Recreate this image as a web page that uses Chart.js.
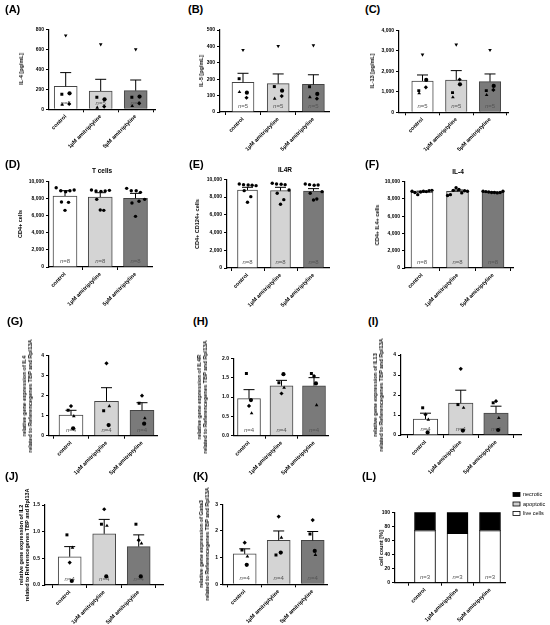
<!DOCTYPE html>
<html>
<head>
<meta charset="utf-8">
<script src="https://cdn.jsdelivr.net/npm/chart.js@4.4.1/dist/chart.umd.min.js"></script>
<style>
  body { margin: 0; background: #fff; width: 550px; height: 625px; position: relative; overflow: hidden;
         font-family: "Liberation Sans", Arial, sans-serif; }
  canvas { position: absolute; }
  .lbl { position: absolute; font-weight: bold; font-size: 11px; line-height: 1; }
  .ttl { position: absolute; font-weight: bold; font-size: 6.5px; line-height: 1; transform: translate(-50%, -50%); }
  .ytl { position: absolute; font-weight: bold; font-size: 5.5px; line-height: 6px; white-space: nowrap;
         text-align: center; transform: translate(-50%, -50%) rotate(-90deg); }
</style>
</head>
<body>
<script>
const groups = ['control', '1µM amitriptyline', '5µM amitriptyline'];

// donor points, n=5 order: circle, square, triangle, down-triangle, diamond
// (A) IL-4 [pg/mL]
const il4Mean = [230, 183, 187];
const il4Sem = [137, 117, 106];
const il4Pts = [[160, 150, 47, 738, 53], [100, 120, 17, 650, 27], [127, 120, 33, 600, 60]];
const il4Ticks = [0, 200, 400, 600, 800];

// (B) IL-5 [pg/mL]
const il5Mean = [181, 173, 168];
const il5Sem = [55, 59, 59];
const il5Pts = [[118, 203, 122, 378, 87], [130, 155, 81, 402, 97], [110, 154, 91, 406, 81]];
const il5Ticks = [0, 100, 200, 300, 400, 500];

// (C) IL-13 [pg/mL]
const il13Mean = [1529, 1577, 1496];
const il13Sem = [292, 456, 374];
const il13Pts = [[1577, 1057, 927, 2813, 1220], [1366, 960, 732, 3300, 1600], [1285, 1057, 845, 3040, 1090]];
const il13Ticks = [0, 1000, 2000, 3000, 4000];

// (D) T cells, CD4+ cells (n=8)
const tcellMean = [8320, 8203, 8047];
const tcellSem = [625, 508, 586];
const tcellPts = [[9297, 8945, 8828, 8945, 9023, 7617, 7578, 6640],
                  [9023, 8906, 8867, 8906, 8984, 7930, 6640, 6679],
                  [9219, 8945, 8945, 8750, 7930, 7500, 7700, 5938]];
// (E) IL4R, CD4+ CD124+ cells
const il4rMean = [8797, 8722, 8684];
const il4rSem = [301, 376, 264];
const il4rPts = [[9474, 9398, 9361, 9323, 9286, 8722, 8045, 7406],
                 [9549, 9474, 9436, 9398, 8797, 8421, 7707, 7180],
                 [9474, 9398, 9323, 9361, 8609, 8421, 7782, 7669]];
// (F) IL-4, CD4+ IL4+ cells
const il4cMean = [8800, 8880, 8760];
const il4cSem = [100, 150, 50];
const il4cPts = [[8900, 8750, 8500, 8800, 8900, 8850, 8950, 9000],
                 [8400, 8500, 9000, 9300, 9100, 8700, 8950, 8900],
                 [8900, 8850, 8800, 8750, 8750, 8700, 8750, 8900]];
const cellTicks = [0, 2000, 4000, 6000, 8000, 10000];

// relative gene expression, n=4 order: circle, square, triangle, diamond
// (G) IL4
const gIl4Mean = [1.03, 1.72, 1.27];
const gIl4Sem = [0.24, 0.68, 0.38];
const gIl4Pts = [[0.37, 1.27, 0.98, 1.48], [0.53, 1.25, 1.48, 3.62], [0.6, 1.62, 0.87, 2.0]];
// (H) IL4R
const gIl4rMean = [0.96, 1.29, 1.29];
const gIl4rSem = [0.23, 0.14, 0.21];
const gIl4rPts = [[0.92, 1.61, 0.58, 0.77], [1.59, 1.37, 1.24, 1.09], [1.35, 1.61, 0.79, 1.54]];
// (I) IL13
const gIl13Mean = [0.8, 1.59, 1.1];
const gIl13Sem = [0.29, 0.65, 0.34];
const gIl13Pts = [[0.13, 1.36, 0.77, 1.02], [0.22, 1.52, 1.36, 3.31], [0.25, 1.61, 0.85, 1.69]];
// (J) IL2
const gIl2Mean = [0.53, 0.96, 0.72];
const gIl2Sem = [0.19, 0.27, 0.22];
const gIl2Pts = [[0.075, 0.94, 0.7, 0.42], [0.16, 1.14, 1.11, 1.42], [0.16, 1.14, 0.78, 0.84]];
// (K) Gata3
const gGataMean = [1.14, 1.65, 1.65];
const gGataSem = [0.19, 0.35, 0.33];
const gGataPts = [[0.73, 1.29, 1.04, 1.56], [1.19, 1.1, 1.75, 2.54], [1.25, 1.89, 1.1, 2.41]];

const gTicks4 = [0, 1, 2, 3, 4];
const gTicks2 = [0, 0.5, 1.0, 1.5, 2.0];
const gTicks15 = [0, 0.5, 1.0, 1.5];
const gTicks3 = [0, 1, 2, 3];

// (L) cell count [%]
const liveCells = [74, 70, 74];
const apoptotic = [0.5, 0.5, 0.5];
const necrotic = [25.5, 29.5, 25.5];
const pctTicks = [0, 20, 40, 60, 80, 100];

const geneTitle = g => ['relative gene expression of ' + g, 'related to Referencegenes TBP and Rpl13A'];
const fmtInt = v => v.toLocaleString('en-US');
const fmt1 = v => v.toFixed(1);

// point symbols / jitter (style only)
const sym5 = ['circle', 'rect', 'triangle', 'triangle', 'rectRot'];
const rot5 = [0, 0, 0, 180, 0];
const jit5 = [0.11, -0.11, -0.1, 0, 0.1];
const sym4 = ['circle', 'rect', 'triangle', 'rectRot'];
const rot4 = [0, 0, 0, 0];
const jit4 = [0.06, -0.08, 0.08, 0];
const sym8 = Array(8).fill('circle');
const rot8 = Array(8).fill(0);
const jit8 = [-0.25, -0.12, 0.02, 0.14, 0.26, -0.1, 0.1, 0];
const jit8line = [-0.28, -0.2, -0.12, -0.04, 0.04, 0.12, 0.2, 0.28];

const barColors = ['#ffffff', '#d4d4d4', '#7a7a7a'];

Chart.defaults.font.family = '"Liberation Sans", Arial, sans-serif';
Chart.defaults.color = '#000';

const barExtras = {
  id: 'barExtras',
  afterDatasetDraw(chart, args, o) {
    if (args.index !== 0) return;
    const ctx = chart.ctx, x = chart.scales.x, y = chart.scales.y;
    const bars = chart.data.datasets[0].data;
    ctx.save();
    ctx.strokeStyle = '#000';
    ctx.lineWidth = 1;
    (o.sem || []).forEach((e, i) => {
      const px = x.getPixelForValue(i);
      const base = y.getPixelForValue(bars[i].y);
      const top = y.getPixelForValue(bars[i].y + e);
      ctx.beginPath();
      ctx.moveTo(px, base); ctx.lineTo(px, top);
      ctx.moveTo(px - 5.5, top); ctx.lineTo(px + 5.5, top);
      ctx.stroke();
    });
    if (o.n) {
      const by = y.getPixelForValue(0) - 2.5;
      ctx.fillStyle = '#555';
      ctx.textBaseline = 'bottom';
      groups.forEach((g, i) => {
        const px = x.getPixelForValue(i);
        ctx.font = 'italic 6px "Liberation Sans"';
        const w1 = ctx.measureText('n').width;
        ctx.font = '6px "Liberation Sans"';
        const rest = '=' + o.n;
        const w2 = ctx.measureText(rest).width;
        const sx = px - (w1 + w2) / 2;
        ctx.font = 'italic 6px "Liberation Sans"';
        ctx.fillText('n', sx, by);
        ctx.font = '6px "Liberation Sans"';
        ctx.fillText(rest, sx + w1, by);
      });
    }
    ctx.restore();
  }
};

const sideLegend = {
  id: 'sideLegend',
  afterDraw(chart, args, o) {
    if (!o.show) return;
    const ctx = chart.ctx;
    ctx.save();
    chart.data.datasets.slice().reverse().forEach((d, i) => {
      const yy = o.y + i * 9.5;
      ctx.fillStyle = d.backgroundColor;
      ctx.strokeStyle = '#000';
      ctx.lineWidth = 0.8;
      ctx.fillRect(o.x, yy - 2, 7, 4);
      ctx.strokeRect(o.x, yy - 2, 7, 4);
      ctx.fillStyle = '#000';
      ctx.font = '5.5px "Liberation Sans"';
      ctx.textBaseline = 'middle';
      ctx.fillText(d.label, o.x + 10, yy);
    });
    ctx.restore();
  }
};

function dots(pts, jit) {
  const out = [];
  pts.forEach((grp, g) => grp.forEach((v, k) => out.push({ x: g + jit[k], y: v })));
  return out;
}

function addDiv(cls, text, x, y) {
  const d = document.createElement('div');
  d.className = cls;
  if (Array.isArray(text)) d.innerHTML = text.join('<br>'); else d.textContent = text;
  d.style.left = x + 'px'; d.style.top = y + 'px';
  document.body.appendChild(d);
}

function makePanel(p) {
  const padTop = p.padTop || 10;
  const left = Math.round(p.x0 - 30);
  const top = Math.round(p.y0 - padTop);
  const right = Math.round(p.legend ? 550 : p.x1 + 4);
  const bottom = Math.round(p.y1 + 44);
  const W = right - left, H = bottom - top;
  const cv = document.createElement('canvas');
  cv.width = W; cv.height = H;
  cv.style.left = left + 'px'; cv.style.top = top + 'px';
  cv.style.width = W + 'px'; cv.style.height = H + 'px';
  document.body.appendChild(cv);

  // y-axis title as page text, centred on the plot height
  const lines = Array.isArray(p.title) ? p.title.length : 1;
  addDiv('ytl', p.title, p.tx + (lines - 1) * 3, (p.y0 + p.y1) / 2);

  const xmin = -(p.c0 - p.x0) / p.s;
  const xmax = 2 + (p.x1 - (p.c0 + 2 * p.s)) / p.s;
  const ymax = p.ticks[p.ticks.length - 1];

  let datasets;
  if (p.stackData) {
    datasets = p.stackData.map(sd => ({
      type: 'bar', label: sd.label, data: sd.values.map((v, i) => ({ x: i, y: v })),
      backgroundColor: sd.color, borderColor: '#000', borderWidth: 1, barThickness: p.bw
    }));
  } else {
    const n = p.pts[0].length;
    const sym = n === 5 ? sym5 : n === 4 ? sym4 : sym8;
    const rot = n === 5 ? rot5 : n === 4 ? rot4 : rot8;
    const jit = p.line ? jit8line : n === 5 ? jit5 : n === 4 ? jit4 : jit8;
    datasets = [{
      type: 'bar', order: 1,
      data: p.mean.map((v, i) => ({ x: i, y: v })),
      backgroundColor: barColors, borderColor: '#444', borderWidth: 1, barThickness: p.bw
    }, {
      type: 'scatter', order: 0,
      data: dots(p.pts, jit),
      pointStyle: p.pts.flatMap(grp => grp.map((v, k) => sym[k])),
      rotation: p.pts.flatMap(grp => grp.map((v, k) => rot[k])),
      pointRadius: n === 8 ? 1.7 : 2.1, pointBorderWidth: 0, backgroundColor: '#000', borderColor: '#000'
    }];
  }

  new Chart(cv, {
    type: 'bar',
    data: { datasets },
    plugins: [barExtras, sideLegend],
    options: {
      responsive: false,
      animation: false,
      layout: { padding: { top: p.y0 - top, left: 0, right: right - p.x1, bottom: 0 } },
      plugins: {
        legend: { display: false },
        tooltip: { enabled: false },
        barExtras: { sem: p.sem, n: p.n },
        sideLegend: { show: !!p.legend, x: 513 - left, y: 494.5 - top }
      },
      scales: {
        x: {
          type: 'linear', min: xmin, max: xmax, offset: false, stacked: !!p.stackData,
          afterBuildTicks: sc => { sc.ticks = groups.map((g, i) => ({ value: i })); },
          afterFit: sc => { sc.height = bottom - p.y1; },
          ticks: { callback: v => groups[v], minRotation: 45, maxRotation: 45, autoSkip: false,
                   font: { size: 5.5, weight: 'bold' }, color: '#000', padding: 1 },
          grid: { drawOnChartArea: false, tickLength: 3, color: '#000', lineWidth: 1 },
          border: { color: '#000', width: 1.2 }
        },
        y: {
          min: 0, max: ymax, stacked: !!p.stackData,
          afterBuildTicks: sc => { sc.ticks = p.ticks.map(v => ({ value: v })); },
          afterFit: sc => { sc.width = p.x0 - left; },
          ticks: { callback: p.fmt, font: { size: 5, weight: 'bold' }, color: '#000', padding: 2 },
          grid: { drawOnChartArea: false, tickLength: 3, color: '#000', lineWidth: 1 },
          border: { color: '#000', width: 1.2 }
        }
      }
    }
  });
}

const panels = [
  { x0: 49, x1: 155, c0: 65.7, s: 35, y0: 29.3, y1: 109.3, tx: 20.7, bw: 23,
    title: 'IL-4 [pg/mL]', ticks: il4Ticks, fmt: fmtInt, mean: il4Mean, sem: il4Sem, pts: il4Pts, n: '5' },
  { x0: 220, x1: 329, c0: 243, s: 35.2, y0: 30, y1: 112, tx: 200.7, bw: 22,
    title: 'IL-5 [pg/mL]', ticks: il5Ticks, fmt: fmtInt, mean: il5Mean, sem: il5Sem, pts: il5Pts, n: '5' },
  { x0: 399, x1: 508, c0: 422.5, s: 33.75, y0: 30.3, y1: 112.3, tx: 372, bw: 21.5,
    title: 'IL-13 [pg/mL]', ticks: il13Ticks, fmt: fmtInt, mean: il13Mean, sem: il13Sem, pts: il13Pts, n: '5' },
  { x0: 49, x1: 152, c0: 65, s: 35.25, y0: 181.7, y1: 267, tx: 20, bw: 24,
    title: 'CD4+ cells', ticks: cellTicks, fmt: fmtInt, mean: tcellMean, sem: tcellSem, pts: tcellPts, n: '8' },
  { x0: 227, x1: 329, c0: 247.5, s: 33, y0: 179.3, y1: 268, tx: 196.7, bw: 20,
    title: 'CD4+ CD124+ cells', ticks: cellTicks, fmt: fmtInt, mean: il4rMean, sem: il4rSem, pts: il4rPts, n: '8' },
  { x0: 405, x1: 513, c0: 422, s: 35.5, y0: 181.7, y1: 268, tx: 377, bw: 22, line: true,
    title: 'CD4+ IL4+ cells', ticks: cellTicks, fmt: fmtInt, mean: il4cMean, sem: il4cSem, pts: il4cPts, n: '8' },
  { x0: 49, x1: 157, c0: 71, s: 35.5, y0: 355.7, y1: 435.7, tx: 23.5, bw: 24,
    title: geneTitle('IL4'), ticks: gTicks4, fmt: fmtInt, mean: gIl4Mean, sem: gIl4Sem, pts: gIl4Pts, n: '4' },
  { x0: 234, x1: 328, c0: 249, s: 32.5, y0: 358.3, y1: 435.7, tx: 198.5, bw: 23,
    title: geneTitle('IL4R'), ticks: gTicks2, fmt: fmt1, mean: gIl4rMean, sem: gIl4rSem, pts: gIl4rPts, n: '4' },
  { x0: 401, x1: 521, c0: 425.5, s: 35.25, y0: 355, y1: 435, tx: 375, bw: 24.5,
    title: geneTitle('IL13'), ticks: gTicks4, fmt: fmtInt, mean: gIl13Mean, sem: gIl13Sem, pts: gIl13Pts, n: '4' },
  { x0: 45, x1: 163, c0: 69.7, s: 34.5, y0: 505, y1: 585, tx: 21, bw: 23,
    title: geneTitle('IL2'), ticks: gTicks15, fmt: fmt1, mean: gIl2Mean, sem: gIl2Sem, pts: gIl2Pts, n: '4' },
  { x0: 223, x1: 327, c0: 244.7, s: 34, y0: 504.3, y1: 584.3, tx: 200.5, bw: 23,
    title: geneTitle('Gata3'), ticks: gTicks3, fmt: fmtInt, mean: gGataMean, sem: gGataSem, pts: gGataPts, n: '4' },
  { x0: 395, x1: 505, c0: 425, s: 32.5, y0: 512.3, y1: 582.7, tx: 381, bw: 21, padTop: 25, legend: true,
    title: 'cell count [%]', ticks: pctTicks, fmt: fmtInt, n: '3',
    stackData: [
      { label: 'live cells', values: liveCells, color: '#ffffff' },
      { label: 'apoptotic', values: apoptotic, color: '#cfcfcf' },
      { label: 'necrotic', values: necrotic, color: '#000000' }
    ] }
];
panels.forEach(makePanel);

// panel letters and small titles
[['(A)', 5, 4], ['(B)', 188, 4], ['(C)', 365, 4],
 ['(D)', 5, 159], ['(E)', 189, 159], ['(F)', 365, 159],
 ['(G)', 7, 316], ['(H)', 193, 316], ['(I)', 368, 316],
 ['(J)', 5, 471], ['(K)', 193, 471], ['(L)', 362, 471]].forEach(([t, x, y]) => addDiv('lbl', t, x, y));
[['T cells', 102, 171], ['IL4R', 285, 170], ['IL-4', 458, 172]].forEach(([t, x, y]) => addDiv('ttl', t, x, y));
</script>
</body>
</html>
